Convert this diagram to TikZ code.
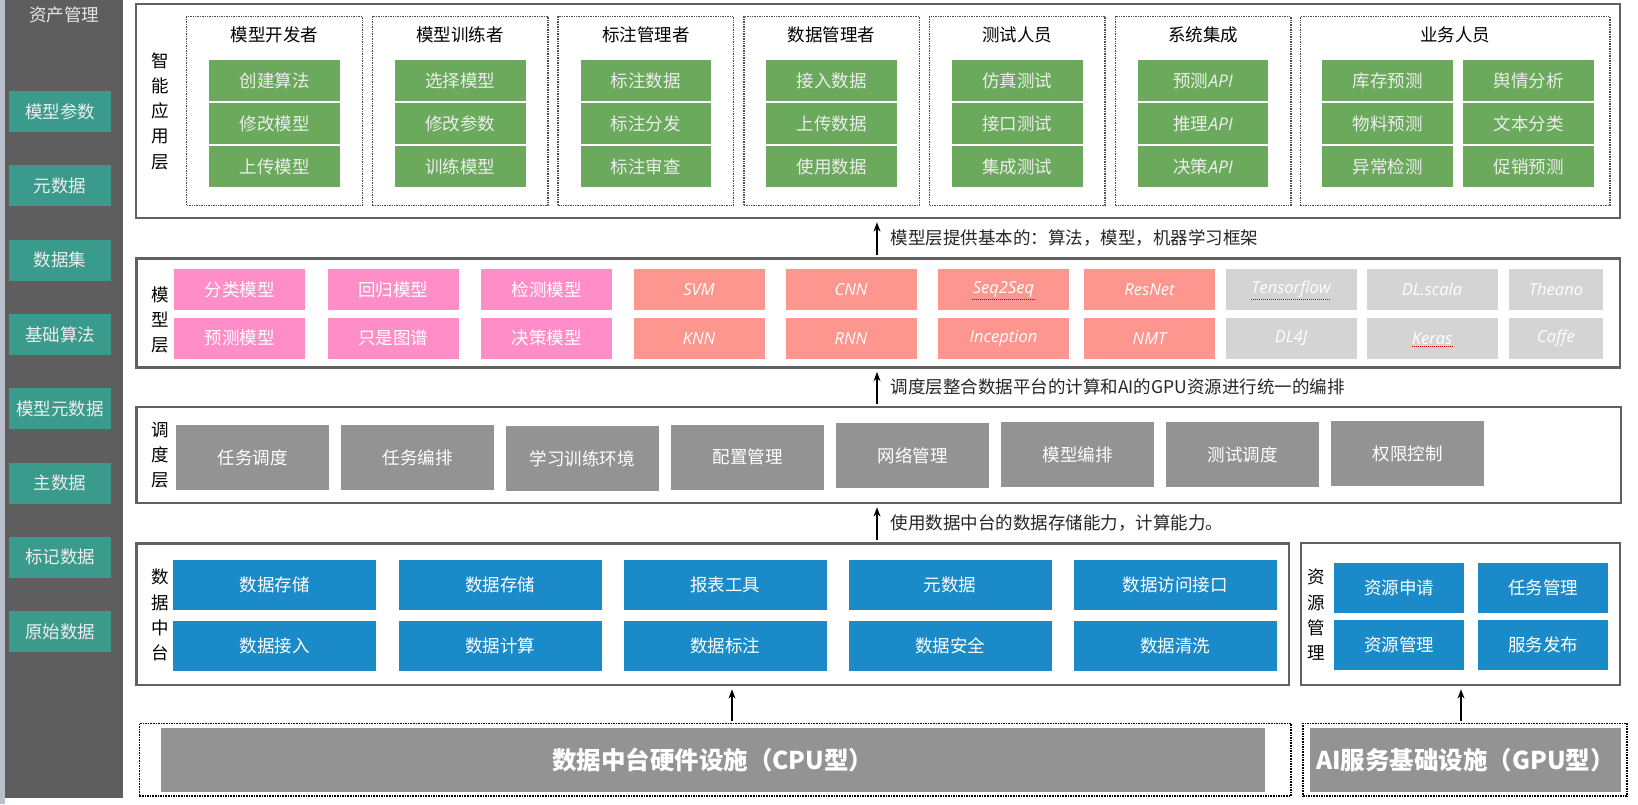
\documentclass[tikz,border=0pt]{standalone}
\usepackage{fontspec}
\setmainfont{Noto Sans CJK SC}
\newfontfamily\enit{Open Sans}
\usetikzlibrary{arrows.meta,calc}

\definecolor{strip}{HTML}{B9C0CC}
\definecolor{panel}{HTML}{5E5E5E}
\definecolor{frame}{HTML}{616161}
\definecolor{assetc}{HTML}{3A9B8D}
\definecolor{appc}{HTML}{6BAA5C}
\definecolor{pinkc}{HTML}{FF8DC7}
\definecolor{salmonc}{HTML}{FC968E}
\definecolor{fwc}{HTML}{D4D4D4}
\definecolor{schc}{HTML}{939393}
\definecolor{datc}{HTML}{1A8BC8}
\newcommand\fs[2]{\fontsize{#1}{#2}\selectfont}

\begin{document}
\begin{tikzpicture}[>=Stealth, x=1pt, y=-1pt,
  every node/.style={font=\fs{17.5}{21}, inner sep=0pt},
  sz/.style 2 args={minimum width=#1, minimum height=#2},
  lyr/.style={draw=frame, line width=2.5pt},
  grp/.style={draw=black!70, densely dotted, line width=1.4pt, sz={175.6pt}{188.8pt}},
  hw/.style={draw=black, densely dotted, line width=1.6pt},
  vlab/.style={align=center, font=\fs{17.5}{25.3}},
  asset/.style={fill=assetc, text=white!93!black, sz={102pt}{41pt}},
  app/.style={fill=appc, text=white!93!black, sz={130.7pt}{40.5pt}},
  mdl/.style={fill=#1, text=white, sz={131pt}{41pt}},
  lat/.style={font=\fs{16.5}{20}\enit\itshape},
  sch/.style={fill=schc, text=white, sz={153pt}{65pt}},
  dat/.style={fill=datc, text=white, sz={203pt}{50pt}},
  res/.style={fill=datc, text=white, sz={130pt}{50pt}},
  arr/.style={->, line width=1.4pt, shorten <=2pt, shorten >=3pt},
  arrnote/.style={right=13pt, text=black!85},
  spell/.style={red!85!black, densely dotted, line width=1pt}]
  \def\api{{\enit\itshape API}}
  \def\grp#1#2#3#4#5#6{%
    \node[grp] (#1) at (#2,111) {};
    \node (#1t) at (#2,35) {#3};
    \node[app] (#1a) at (#2,80.5) {#4};
    \node[app] (#1b) at (#2,123.5) {#5};
    \node[app] (#1c) at (#2,166.5) {#6};}
  \useasboundingbox (0,0) rectangle (1638,804);
  \fill[white] (0,0) rectangle (1638,804);

  % asset panel
  \fill[strip] (0,0) rectangle (4.5,804);
  \fill[panel] (4.5,0) rectangle (123,797.5);
  \node[text=white!90!black] (assett) at (64,15) {资产管理};
  \foreach \t [count=\i from 0] in {模型参数,元数据,数据集,基础算法,模型元数据,主数据,标记数据,原始数据}
    \node[asset] (as\i) at (60,111.5+74.3*\i) {\t};

  % application layer
  \node[lyr, sz={1484pt}{214.3pt}] (applayer) at (878,110.9) {};
  \node[vlab] (applab) at (160,111) {智\\能\\应\\用\\层};
  \grp{g1}{274.5}{模型开发者}{创建算法}{修改模型}{上传模型}
  \grp{g2}{460.2}{模型训练者}{选择模型}{修改参数}{训练模型}
  \grp{g3}{645.9}{标注管理者}{标注数据}{标注分发}{标注审查}
  \grp{g4}{831.6}{数据管理者}{接入数据}{上传数据}{使用数据}
  \grp{g5}{1017.3}{测试人员}{仿真测试}{接口测试}{集成测试}
  \grp{g6}{1203}{系统集成}{预测\api}{推理\api}{决策\api}
  \node[grp, sz={309.7pt}{188.8pt}] (g7) at (1455.2,111) {};
  \node (g7t) at (1455.2,35) {业务人员};
  \foreach \x/\a/\b/\c [count=\i] in {1387.8/库存预测/物料预测/异常检测, 1528.8/舆情分析/文本分类/促销预测} {
    \node[app] (g7\i a) at (\x,80.5) {\a};
    \node[app] (g7\i b) at (\x,123.5) {\b};
    \node[app] (g7\i c) at (\x,166.5) {\c};}

  % model layer
  \node[lyr, sz={1483.5pt}{109pt}] (mdllayer) at (878,313.2) {};
  \node[vlab] (mdllab) at (160,320) {模\\型\\层};
  \foreach \x/\a/\b [count=\i] in {239.5/分类模型/预测模型, 393/回归模型/只是图谱, 546.5/检测模型/决策模型} {
    \node[mdl=pinkc] (pk\i a) at (\x,289.5) {\a};
    \node[mdl=pinkc] (pk\i b) at (\x,338.3) {\b};}
  \foreach \x/\a/\b [count=\i] in {699/SVM/KNN, 851/CNN/RNN, 1003.5/Seq2Seq/Inception, 1149.5/ResNet/NMT} {
    \node[mdl=salmonc, lat] (sa\i a) at (\x,289.5) {\a};
    \node[mdl=salmonc, lat] (sa\i b) at (\x,338.3) {\b};}
  \foreach \x/\a/\b [count=\i] in {1291/Tensorflow/DL4J, 1432/DL.scala/Keras} {
    \node[mdl=fwc, lat] (fw\i a) at (\x,289.5) {\a};
    \node[mdl=fwc, lat] (fw\i b) at (\x,338.3) {\b};}
  \node[mdl=fwc, lat, sz={94pt}{41pt}] (fw3a) at (1556,289.5) {Theano};
  \node[mdl=fwc, lat, sz={94pt}{41pt}] (fw3b) at (1556,338.3) {Caffe};
  \draw[spell] ($(sa3a)+(-32,9.5)$) -- ($(sa3a)+(32,9.5)$);
  \draw[spell] ($(fw1a)+(-40,9.5)$) -- ($(fw1a)+(39,9.5)$);
  \draw[spell] ($(fw2b)+(-20,8)$) -- ($(fw2b)+(21,8)$);

  % scheduling layer
  \node[lyr, sz={1484.5pt}{96.3pt}] (schlayer) at (878.5,454.9) {};
  \node[vlab] (schlab) at (160,455) {调\\度\\层};
  \foreach \x/\y/\t [count=\i] in {252.5/457.5/任务调度, 417.5/457.5/任务编排, 582.3/458.5/学习训练环境,
      747.5/457.3/配置管理, 912.5/455.8/网络管理, 1077.5/454.8/模型编排, 1242.5/454.8/测试调度, 1407.5/453.5/权限控制}
    \node[sch] (sc\i) at (\x,\y) {\t};

  % data platform and resources
  \node[lyr, sz={1152.5pt}{141.7pt}] (datlayer) at (712.8,614.2) {};
  \node[vlab] (datlab) at (160,615) {数\\据\\中\\台};
  \foreach \x/\a/\b [count=\i] in {274.5/数据存储/数据接入, 500/数据存储/数据计算, 725/报表工具/数据标注,
      950/元数据/数据安全, 1175/数据访问接口/数据清洗} {
    \node[dat] (d\i a) at (\x,585.3) {\a};
    \node[dat] (d\i b) at (\x,645.8) {\b};}
  \node[lyr, sz={319pt}{142pt}] (reslayer) at (1460.5,614) {};
  \node[vlab] (reslab) at (1316,615) {资\\源\\管\\理};
  \node[res] (r1a) at (1399,588) {资源申请};
  \node[res] (r2a) at (1543,588) {任务管理};
  \node[res] (r1b) at (1399,644.5) {资源管理};
  \node[res] (r2b) at (1543,644.5) {服务发布};

  % hardware
  \node[hw, sz={1151.7pt}{72.7pt}] (cpu) at (715.2,759.7) {};
  \node[fill=schc, sz={1103.6pt}{63.4pt}, text=white, font=\fs{24.5}{28}\bfseries] (cpuin) at (712.8,760) {数据中台硬件设施（CPU型）};
  \node[hw, sz={324pt}{72.7pt}] (gpu) at (1465,759.7) {};
  \node[fill=schc, sz={311pt}{63.4pt}, text=white, font=\fs{24.5}{28}\bfseries] (gpuin) at (1465.5,760) {AI服务基础设施（GPU型）};

  % arrows
  \coordinate (ax) at (877,0);
  \coordinate (bx) at (732,0);
  \coordinate (cx) at (1461,0);
  \draw[arr] (mdllayer.north -| ax) -- (applayer.south -| ax) node[midway, arrnote] {模型层提供基本的：算法，模型，机器学习框架};
  \draw[arr] (schlayer.north -| ax) -- (mdllayer.south -| ax) node[midway, arrnote] {调度层整合数据平台的计算和AI的GPU资源进行统一的编排};
  \draw[arr] (datlayer.north -| ax) -- (schlayer.south -| ax) node[midway, arrnote] {使用数据中台的数据存储能力，计算能力。};
  \draw[arr] (cpu.north -| bx) -- (datlayer.south -| bx);
  \draw[arr] (gpu.north -| cx) -- (reslayer.south -| cx);
\end{tikzpicture}
\end{document}
